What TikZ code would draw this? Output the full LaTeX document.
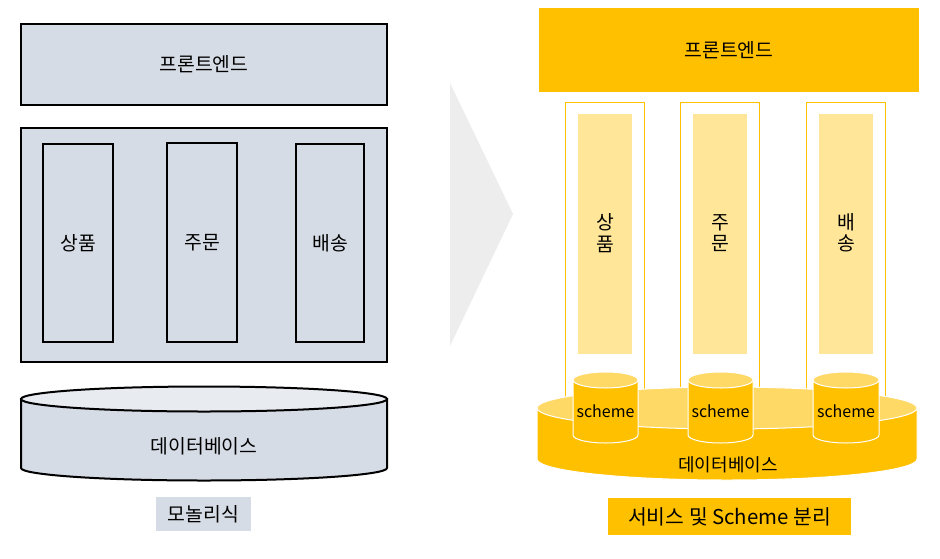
\documentclass[tikz,border=0pt]{standalone}
\usepackage{fontspec}
\setmainfont{Noto Sans CJK KR}
\definecolor{lgray}{HTML}{D6DCE5}
\definecolor{ltop}{HTML}{E8EBF0}
\definecolor{gold}{HTML}{FFC000}
\definecolor{goldtop}{HTML}{FFD966}
\definecolor{pale}{HTML}{FFE699}
\definecolor{arrowgray}{HTML}{EDEDED}
\newcommand\mkbox[7]{\node[#1,minimum width={(#4-#2)*0.75pt},minimum height={(#5-#3)*0.75pt}] (#6) at ({(#2+#4)/2},{(#3+#5)/2}) {#7};}
% cylinder: cx, ytop, ybot, rx, ry, top fill, body fill, stroke, line width
\newcommand\mkcyl[9]{%
  \path[fill=#7,draw=#8,line width=#9] ({#1-#4},#2) -- ({#1-#4},#3)
    arc[start angle=180,end angle=0,x radius=#4,y radius=#5] -- ({#1+#4},#2) -- cycle;
  \path[fill=#6,draw=#8,line width=#9] (#1,#2) ellipse[x radius=#4,y radius=#5];}
\begin{document}
\begin{tikzpicture}[x=0.75pt,y=-0.75pt,
  kr/.style={font=\fontsize{14.5}{16}\selectfont},
  lbox/.style={draw=black,line width=1.5pt,fill=lgray,inner sep=0pt,kr},
  frame/.style={draw=gold,line width=0.75pt,inner sep=0pt},
  palebox/.style={fill=pale,inner sep=0pt},
  goldbox/.style={fill=gold,inner sep=0pt,kr},
  txt/.style={inner sep=0pt,kr,align=center},
  sch/.style={inner sep=0pt,font=\fontsize{12}{14}\selectfont}]
\useasboundingbox (0,0) rectangle (940,558);
\fill[white] (0,0) rectangle (940,558);

% ---------- left: monolith ----------
\mkbox{lbox}{21}{24}{387}{105}{lfront}{프론트엔드}
\mkbox{lbox}{21}{128}{387}{362}{lmid}{}
\mkbox{lbox}{43}{144}{113}{342}{lprod}{상품}
\mkbox{lbox}{167}{143}{237}{342}{lorder}{주문}
\mkbox{lbox}{296}{144}{364}{342}{lship}{배송}
\mkcyl{204}{399}{468}{183}{12.5}{ltop}{lgray}{black}{1.5pt}
\node[txt] (ldb) at (204,446) {데이터베이스};
\mkbox{fill=lgray,inner sep=0pt,kr}{156}{497}{251}{531}{llabel}{모놀리식}

% ---------- arrow ----------
\fill[arrowgray] (450,83) -- (513,214) -- (450,346) -- cycle;

% ---------- right: services ----------
\mkbox{frame}{565}{102}{644}{420}{rf1}{}
\mkbox{frame}{680}{102}{759}{420}{rf2}{}
\mkbox{frame}{806}{102}{885}{420}{rf3}{}
\mkbox{palebox}{578}{114}{632}{354}{rp1}{}
\mkbox{palebox}{693}{114}{747}{354}{rp2}{}
\mkbox{palebox}{819}{114}{873}{354}{rp3}{}
\node[txt] (rt1) at (605,233) {상\\품};
\node[txt] (rt2) at (720,233) {주\\문};
\node[txt] (rt3) at (846,233) {배\\송};
\mkbox{goldbox}{539}{8}{919}{92}{rfront}{프론트엔드}

\mkcyl{727}{408}{459}{190}{21}{goldtop}{gold}{white}{0.75pt}
\node[inner sep=0pt,font=\fontsize{13.5}{15}\selectfont] (rdb) at (728,465) {데이터베이스};

\mkcyl{605.5}{380}{435}{32.5}{8}{goldtop}{gold}{white}{0.75pt}
\mkcyl{720.5}{380}{435}{32.5}{8}{goldtop}{gold}{white}{0.75pt}
\mkcyl{846}{380}{435}{33}{8}{goldtop}{gold}{white}{0.75pt}
\node[sch] (s1) at (605.5,411) {scheme};
\node[sch] (s2) at (720.5,411) {scheme};
\node[sch] (s3) at (846,411) {scheme};

\mkbox{fill=gold,inner sep=0pt,font=\fontsize{15.3}{18}\selectfont}{608}{498}{851}{535}{rlabel}{서비스 및 Scheme 분리}
\end{tikzpicture}
\end{document}
